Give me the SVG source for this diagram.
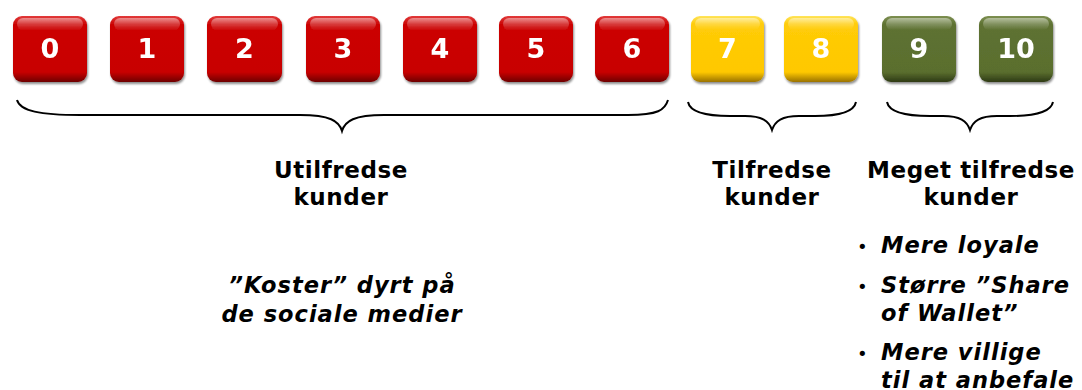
<svg xmlns="http://www.w3.org/2000/svg" width="1082" height="390" viewBox="0 0 1082 390">
  <defs>
    <linearGradient id="gRed" x1="0" y1="0" x2="0" y2="1">
      <stop offset="0" stop-color="#E23A3A"/>
      <stop offset="0.12" stop-color="#CC0606"/>
      <stop offset="0.85" stop-color="#C80000"/>
      <stop offset="1" stop-color="#6E0000"/>
    </linearGradient>
    <linearGradient id="gYellow" x1="0" y1="0" x2="0" y2="1">
      <stop offset="0" stop-color="#FFE45A"/>
      <stop offset="0.12" stop-color="#FFCC08"/>
      <stop offset="0.85" stop-color="#FFC800"/>
      <stop offset="1" stop-color="#9A7200"/>
    </linearGradient>
    <linearGradient id="gGreen" x1="0" y1="0" x2="0" y2="1">
      <stop offset="0" stop-color="#7E9052"/>
      <stop offset="0.12" stop-color="#5E7232"/>
      <stop offset="0.85" stop-color="#5A6E2E"/>
      <stop offset="1" stop-color="#2E3A14"/>
    </linearGradient>
    <linearGradient id="gShine" x1="0" y1="0" x2="0" y2="1">
      <stop offset="0" stop-color="#FFFFFF" stop-opacity="0.45"/>
      <stop offset="1" stop-color="#FFFFFF" stop-opacity="0"/>
    </linearGradient>
    <filter id="shadow" x="-10%" y="-10%" width="125%" height="130%">
      <feGaussianBlur in="SourceAlpha" stdDeviation="1.2"/>
      <feOffset dx="1" dy="1.5" result="b"/>
      <feComponentTransfer><feFuncA type="linear" slope="0.45"/></feComponentTransfer>
      <feMerge><feMergeNode/><feMergeNode in="SourceGraphic"/></feMerge>
    </filter>
  </defs>
  <style>
    .box { filter: url(#shadow); }
    .red { fill: url(#gRed); }
    .yellow { fill: url(#gYellow); }
    .green { fill: url(#gGreen); }
    .shine { fill: url(#gShine); }
    .num { font-family: "DejaVu Sans", Verdana, sans-serif; font-weight: bold; font-size: 27px; fill: #FFFFFF; text-anchor: middle; }
    .head { font-family: "DejaVu Sans", Verdana, sans-serif; font-weight: bold; font-size: 23px; letter-spacing: 0.6px; fill: #000000; text-anchor: middle; }
    .note { font-family: "DejaVu Sans", Verdana, sans-serif; font-weight: bold; font-style: italic; font-size: 22.5px; letter-spacing: 1px; fill: #000000; }
    .bullet { font-family: "DejaVu Sans", Verdana, sans-serif; font-size: 18px; fill: #000000; }
    .brace { fill: none; stroke: #000000; stroke-width: 2; }
  </style>

  <!-- score boxes 0..10 -->
  <g id="score-0" class="box"><rect class="red" x="13" y="16" width="74" height="66" rx="9"/><rect class="shine" x="17" y="18" width="66" height="12" rx="6"/><text class="num" x="50" y="58">0</text></g>
  <g id="score-1" class="box"><rect class="red" x="110" y="16" width="74" height="66" rx="9"/><rect class="shine" x="114" y="18" width="66" height="12" rx="6"/><text class="num" x="147" y="58">1</text></g>
  <g id="score-2" class="box"><rect class="red" x="207" y="16" width="75" height="66" rx="9"/><rect class="shine" x="211" y="18" width="67" height="12" rx="6"/><text class="num" x="244.5" y="58">2</text></g>
  <g id="score-3" class="box"><rect class="red" x="306" y="16" width="74" height="66" rx="9"/><rect class="shine" x="310" y="18" width="66" height="12" rx="6"/><text class="num" x="343" y="58">3</text></g>
  <g id="score-4" class="box"><rect class="red" x="403" y="16" width="74" height="66" rx="9"/><rect class="shine" x="407" y="18" width="66" height="12" rx="6"/><text class="num" x="440" y="58">4</text></g>
  <g id="score-5" class="box"><rect class="red" x="499" y="16" width="74" height="66" rx="9"/><rect class="shine" x="503" y="18" width="66" height="12" rx="6"/><text class="num" x="536" y="58">5</text></g>
  <g id="score-6" class="box"><rect class="red" x="595" y="16" width="74" height="66" rx="9"/><rect class="shine" x="599" y="18" width="66" height="12" rx="6"/><text class="num" x="632" y="58">6</text></g>
  <g id="score-7" class="box"><rect class="yellow" x="691" y="16" width="73" height="66" rx="9"/><rect class="shine" x="695" y="18" width="65" height="12" rx="6"/><text class="num" x="727.5" y="58">7</text></g>
  <g id="score-8" class="box"><rect class="yellow" x="784" y="16" width="74" height="66" rx="9"/><rect class="shine" x="788" y="18" width="66" height="12" rx="6"/><text class="num" x="821" y="58">8</text></g>
  <g id="score-9" class="box"><rect class="green" x="882" y="16" width="74" height="66" rx="9"/><rect class="shine" x="886" y="18" width="66" height="12" rx="6"/><text class="num" x="919" y="58">9</text></g>
  <g id="score-10" class="box"><rect class="green" x="979" y="16" width="74" height="66" rx="9"/><rect class="shine" x="983" y="18" width="66" height="12" rx="6"/><text class="num" x="1016" y="58">10</text></g>

  <!-- grouping braces -->
  <g id="connectors">
    <path class="brace" d="M17,100 C20,111 40,115 80,115 L300,115 C330,115 339,121 342,131 C345,121 354,115 384,115 L628,115 C658,115 665,110 668,100"/>
    <path class="brace" d="M688,102 C690,112 705,116 730,116 L745,116 C762,116 769,121 772,130 C775,121 782,116 799,116 L815,116 C840,116 854,112 856,102"/>
    <path class="brace" d="M887,102 C889,112 905,116 930,116 L943,116 C960,116 967,121 970,130 C973,121 980,116 997,116 L1010,116 C1035,116 1051,112 1053,102"/>
  </g>

  <!-- group labels -->
  <g id="label-unsatisfied">
    <text class="head" x="341" y="178">Utilfredse</text>
    <text class="head" x="341" y="205">kunder</text>
    <text class="note" x="342" y="293" text-anchor="middle">”Koster” dyrt på</text>
    <text class="note" x="342" y="322" text-anchor="middle">de sociale medier</text>
  </g>
  <g id="label-satisfied">
    <text class="head" x="772" y="178">Tilfredse</text>
    <text class="head" x="772" y="205">kunder</text>
  </g>
  <g id="label-very-satisfied">
    <text class="head" x="971" y="178">Meget tilfredse</text>
    <text class="head" x="971" y="205">kunder</text>
    <text class="bullet" x="857" y="253">•</text>
    <text class="note" x="881" y="253">Mere loyale</text>
    <text class="bullet" x="857" y="293">•</text>
    <text class="note" x="881" y="293">Større ”Share</text>
    <text class="note" x="881" y="321">of Wallet”</text>
    <text class="bullet" x="857" y="360">•</text>
    <text class="note" x="881" y="360">Mere villige</text>
    <text class="note" x="881" y="388">til at anbefale</text>
  </g>
</svg>
